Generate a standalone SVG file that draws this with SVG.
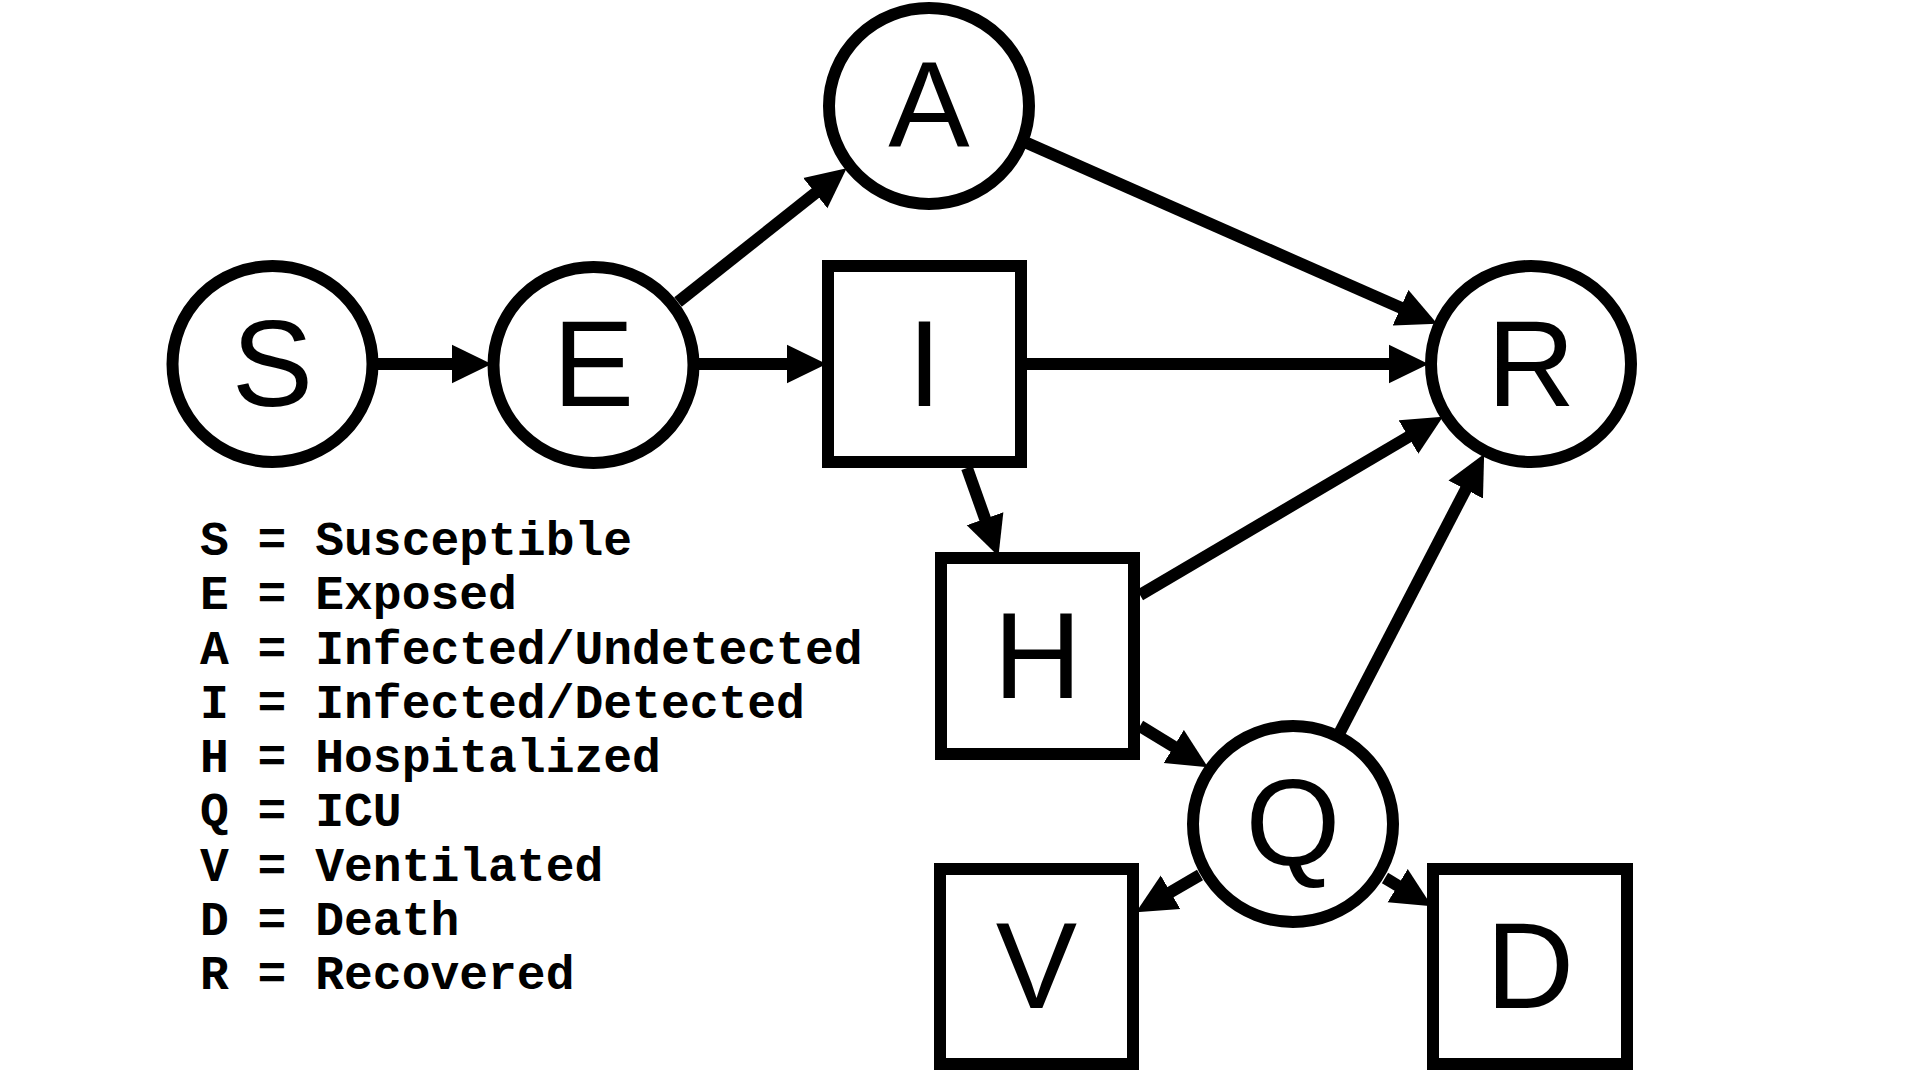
<svg xmlns="http://www.w3.org/2000/svg" width="1910" height="1072" viewBox="0 0 1910 1072">
<defs>
<style>
.node{fill:#fff;stroke:#000;stroke-width:12}
.lbl{font-family:"Liberation Sans",Arial,sans-serif;font-size:122px;fill:#000;text-anchor:middle}
.edge{stroke:#000;stroke-width:12;fill:none}
.legend{font-family:"Liberation Mono","Courier New",monospace;font-weight:bold;font-size:48px;fill:#000}
</style>
<marker id="arr" markerUnits="userSpaceOnUse" markerWidth="40" markerHeight="40" viewBox="0 0 35 34" refX="3" refY="17" orient="auto">
<path d="M0,0 L35,17 L0,34 z" fill="#000"/>
</marker>
</defs>
<rect width="1910" height="1072" fill="#fff"/>
<g id="connectors">
<line class="edge" x1="378" y1="364" x2="455" y2="364" marker-end="url(#arr)"/>
<line class="edge" x1="699" y1="364" x2="790" y2="364" marker-end="url(#arr)"/>
<line class="edge" x1="678" y1="302" x2="818" y2="191" marker-end="url(#arr)"/>
<line class="edge" x1="1027" y1="143" x2="1403.7" y2="309.1" marker-end="url(#arr)"/>
<line class="edge" x1="1027" y1="364" x2="1392" y2="364" marker-end="url(#arr)"/>
<line class="edge" x1="967" y1="468" x2="986.2" y2="521.9" marker-end="url(#arr)"/>
<line class="edge" x1="1140" y1="595" x2="1411.4" y2="435.2" marker-end="url(#arr)"/>
<line class="edge" x1="1140" y1="726" x2="1176.7" y2="748.3" marker-end="url(#arr)"/>
<line class="edge" x1="1340" y1="732" x2="1467.3" y2="486.4" marker-end="url(#arr)"/>
<line class="edge" x1="1200" y1="875" x2="1167.6" y2="893.9" marker-end="url(#arr)"/>
<line class="edge" x1="1385" y1="878" x2="1400.6" y2="887.4" marker-end="url(#arr)"/>
</g>
<g id="node-S"><ellipse class="node" cx="272.5" cy="364" rx="100" ry="98"/><text class="lbl" x="272.5" y="406">S</text></g>
<g id="node-E"><ellipse class="node" cx="593.5" cy="365" rx="100" ry="98"/><text class="lbl" x="593.5" y="406">E</text></g>
<g id="node-A"><ellipse class="node" cx="929" cy="106" rx="100" ry="98"/><text class="lbl" x="929" y="147">A</text></g>
<g id="node-R"><ellipse class="node" cx="1531" cy="364" rx="100" ry="98"/><text class="lbl" x="1531" y="406">R</text></g>
<g id="node-Q"><ellipse class="node" cx="1293" cy="824" rx="100" ry="98"/><text class="lbl" x="1293" y="865">Q</text></g>
<g id="node-I"><rect class="node" x="828" y="266" width="193" height="196"/><text class="lbl" x="924.5" y="406">I</text></g>
<g id="node-H"><rect class="node" x="941" y="558" width="193" height="196"/><text class="lbl" x="1037.5" y="698">H</text></g>
<g id="node-V"><rect class="node" x="940" y="869" width="193" height="195"/><text class="lbl" x="1036.5" y="1008">V</text></g>
<g id="node-D"><rect class="node" x="1433" y="869" width="194" height="195"/><text class="lbl" x="1530" y="1008">D</text></g>
<g id="legend">
<text class="legend" x="200" y="555">S = Susceptible</text>
<text class="legend" x="200" y="609">E = Exposed</text>
<text class="legend" x="200" y="663.5">A = Infected/Undetected</text>
<text class="legend" x="200" y="717.8">I = Infected/Detected</text>
<text class="legend" x="200" y="772">H = Hospitalized</text>
<text class="legend" x="200" y="826">Q = ICU</text>
<text class="legend" x="200" y="880.5">V = Ventilated</text>
<text class="legend" x="200" y="934.8">D = Death</text>
<text class="legend" x="200" y="989">R = Recovered</text>
</g>
</svg>
